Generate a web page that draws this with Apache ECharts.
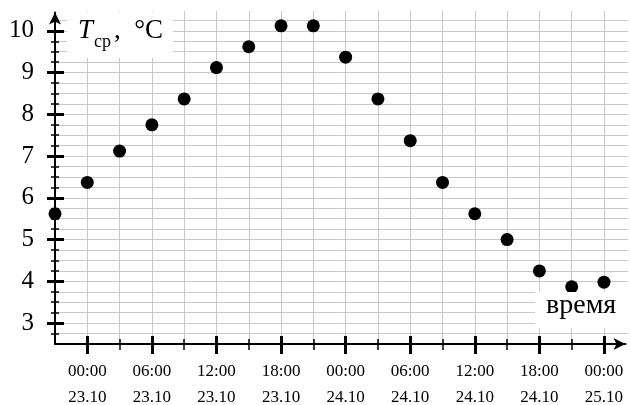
<!DOCTYPE html>
<html>
<head>
<meta charset="utf-8">
<script src="https://cdn.jsdelivr.net/npm/echarts@6/dist/echarts.min.js"></script>
<style>
  html, body { margin: 0; padding: 0; background: #fff; }
  #main { width: 630px; height: 405px; }
</style>
</head>
<body>
<div id="main"></div>
<script>
// hours counted from 00:00 23.10
var hours = [-3, 0, 3, 6, 9, 12, 15, 18, 21, 24, 27, 30, 33, 36, 39, 42, 45, 48];
var temps = [5.62, 6.37, 7.12, 7.75, 8.37, 9.12, 9.62, 10.12, 10.12, 9.37, 8.37, 7.37, 6.37, 5.62, 5.0, 4.25, 3.87, 3.98];

var timeTicks = [0, 6, 12, 18, 24, 30, 36, 42, 48];
var timeLabels = ['00:00\n23.10', '06:00\n23.10', '12:00\n23.10', '18:00\n23.10',
                  '00:00\n24.10', '06:00\n24.10', '12:00\n24.10', '18:00\n24.10', '00:00\n25.10'];
var tempTicks = [3, 4, 5, 6, 7, 8, 9, 10];

var range = function (a, b, step) {
    var r = [];
    for (var v = a; v <= b + 1e-9; v += step) r.push(Math.round(v * 100) / 100);
    return r;
};
var minorTime = range(3, 45, 6);
var gridTime = range(0, 48, 3);
var minorTemp = range(2.75, 10.25, 0.25).filter(function (v) { return v % 1 !== 0; });
var gridTemp = range(2.75, 10.25, 0.25);

var serif = 'Liberation Serif';
var X_MIN = -3, X_MAX = 50, Y_MIN = 2.5, Y_MAX = 10.44;

var myChart = echarts.init(document.getElementById('main'));

function xAux(tick, z) {
    return {
        type: 'value', min: X_MIN, max: X_MAX, position: 'bottom', z: z || 0,
        axisLine: { show: false, onZero: false },
        axisLabel: { show: false },
        splitLine: { show: false },
        axisTick: tick
    };
}
function yAux(tick, z) {
    return {
        type: 'value', min: Y_MIN, max: Y_MAX, position: 'left', z: z || 0,
        axisLine: { show: false, onZero: false },
        axisLabel: { show: false },
        splitLine: { show: false },
        axisTick: tick
    };
}

var option = {
    animation: false,
    grid: { left: 55, right: 4.5, top: 12.5, bottom: 61, outerBoundsMode: 'none', containLabel: false },
    xAxis: [
        {
            type: 'value', min: X_MIN, max: X_MAX, position: 'bottom', z: 2,
            axisLine: {
                onZero: false, symbol: ['none', 'arrow'], symbolSize: [9, 12],
                lineStyle: { color: '#000', width: 2 }
            },
            axisTick: {
                customValues: timeTicks, length: 10, inside: false,
                lineStyle: { color: '#000', width: 3 }
            },
            axisLabel: {
                customValues: timeTicks, margin: 15,
                fontFamily: serif, fontSize: 17, color: '#000', lineHeight: 26,
                formatter: function (v) {
                    var i = timeTicks.indexOf(v);
                    return i >= 0 ? timeLabels[i] : '';
                }
            },
            splitLine: { show: false }
        },
        xAux({ customValues: timeTicks, length: 8, inside: true, lineStyle: { color: '#000', width: 3 } }, 2),
        xAux({ customValues: minorTime, length: 6, inside: false, lineStyle: { color: '#000', width: 1.5 } }, 2),
        xAux({ customValues: minorTime, length: 5, inside: true, lineStyle: { color: '#000', width: 1.5 } }, 2),
        xAux({ customValues: gridTime, length: 333, inside: true, lineStyle: { color: '#c8c8c8', width: 1 } }, -1)
    ],
    yAxis: [
        {
            type: 'value', min: Y_MIN, max: Y_MAX, position: 'left', z: 2,
            axisLine: {
                onZero: false, symbol: ['none', 'arrow'], symbolSize: [9, 12],
                lineStyle: { color: '#000', width: 2 }
            },
            axisTick: {
                customValues: tempTicks, length: 8, inside: false,
                lineStyle: { color: '#000', width: 3 }
            },
            axisLabel: {
                customValues: tempTicks, margin: 21,
                fontFamily: serif, fontSize: 25, color: '#000'
            },
            splitLine: { show: false }
        },
        yAux({ customValues: tempTicks, length: 9, inside: true, lineStyle: { color: '#000', width: 3 } }, 2),
        yAux({ customValues: minorTemp, length: 4, inside: false, lineStyle: { color: '#000', width: 1.5 } }, 2),
        yAux({ customValues: minorTemp, length: 4, inside: true, lineStyle: { color: '#000', width: 1.5 } }, 2),
        yAux({ customValues: gridTemp, length: 573, inside: true, lineStyle: { color: '#c8c8c8', width: 1 } }, -1)
    ],
    series: [{
        type: 'scatter',
        xAxisIndex: 0,
        yAxisIndex: 0,
        clip: false,
        z: 5,
        symbol: 'circle',
        symbolSize: 13,
        itemStyle: { color: '#000', opacity: 1 },
        data: hours.map(function (h, i) { return [h, temps[i]]; })
    }],
    graphic: [
        { type: 'rect', z: 100, shape: { x: 67, y: 12, width: 106, height: 46 }, style: { fill: '#fff' } },
        { type: 'text', z: 101, x: 78, y: 31,
          style: { text: 'T', font: 'italic 27px ' + serif, fill: '#000', verticalAlign: 'middle' } },
        { type: 'text', z: 101, x: 94, y: 42,
          style: { text: 'ср', font: '18px ' + serif, fill: '#000', verticalAlign: 'middle' } },
        { type: 'text', z: 101, x: 114, y: 31,
          style: { text: ',  °C', font: '27px ' + serif, fill: '#000', verticalAlign: 'middle' } },
        { type: 'rect', z: 100, shape: { x: 535, y: 292, width: 95, height: 36 }, style: { fill: '#fff' } },
        { type: 'text', z: 101, x: 546, y: 306,
          style: { text: 'время', font: '28px ' + serif, fill: '#000', verticalAlign: 'middle' } }
    ]
};
myChart.setOption(option);
</script>
</body>
</html>
